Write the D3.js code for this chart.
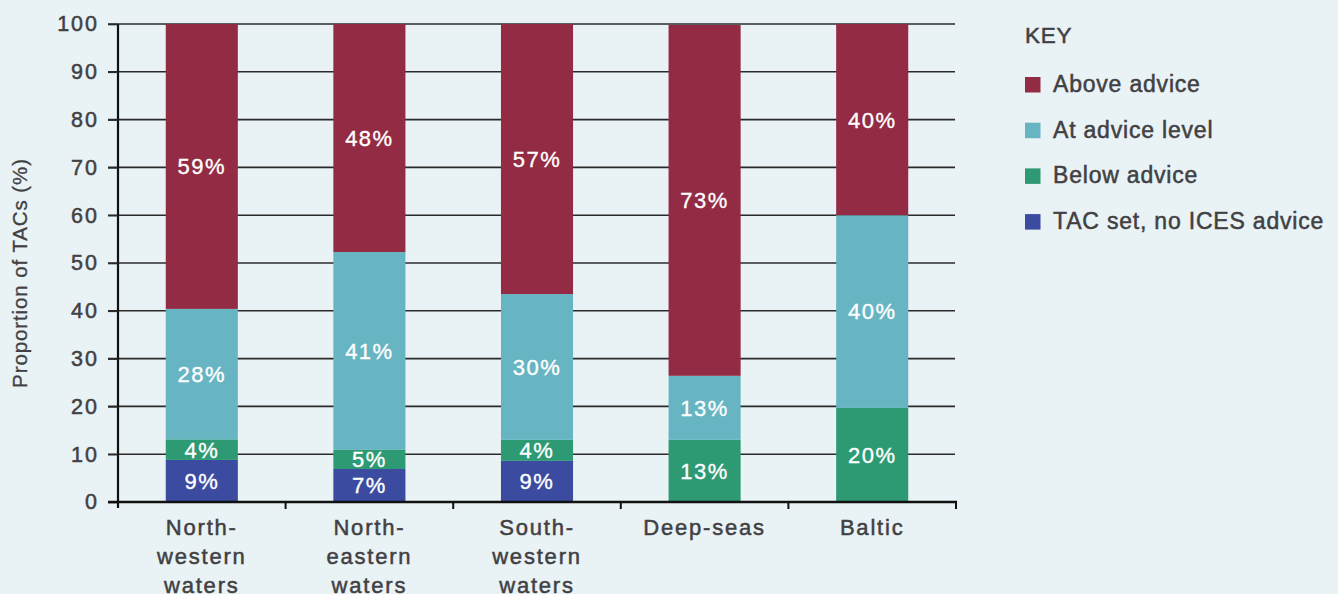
<!DOCTYPE html>
<html>
<head>
<meta charset="utf-8">
<script src="https://cdn.jsdelivr.net/npm/d3@7/dist/d3.min.js"></script>
<style>
  html, body { margin: 0; padding: 0; background: #e9f2f5; }
  svg { display: block; }
  text { font-family: "Liberation Sans", Arial, Helvetica, sans-serif; }
  .dark { stroke: #414042; stroke-width: 0.5px; }
  .light { stroke: #ffffff; stroke-width: 0.35px; }
</style>
</head>
<body>
<svg id="chart" width="1338" height="594"></svg>
<script>
// ---- data ----
const categories = ["North-western waters", "North-eastern waters", "South-western waters", "Deep-seas", "Baltic"];
const categoryLines = [["North-", "western", "waters"], ["North-", "eastern", "waters"], ["South-", "western", "waters"], ["Deep-seas"], ["Baltic"]];
const seriesNames = ["TAC set, no ICES advice", "Below advice", "At advice level", "Above advice"];
const noAdvice = [8.8, 6.9, 8.6, 0, 0];
const belowAdvice = [4.3, 4.0, 4.4, 13.0, 19.7];
const atAdvice = [27.3, 41.4, 30.5, 13.4, 40.3];
const aboveAdvice = [59.6, 47.7, 56.5, 73.4, 40.0];
const noAdviceLabels = ["9%", "7%", "9%", "", ""];
const belowAdviceLabels = ["4%", "5%", "4%", "13%", "20%"];
const atAdviceLabels = ["28%", "41%", "30%", "13%", "40%"];
const aboveAdviceLabels = ["59%", "48%", "57%", "73%", "40%"];
const yTicks = [0, 10, 20, 30, 40, 50, 60, 70, 80, 90, 100];
const legendOrder = ["Above advice", "At advice level", "Below advice", "TAC set, no ICES advice"];

const colors = {
  "Above advice": "#922b43",
  "At advice level": "#67b5c3",
  "Below advice": "#2e9a73",
  "TAC set, no ICES advice": "#3a4ba0"
};
const textColor = "#414042";

const seriesValues = [noAdvice, belowAdvice, atAdvice, aboveAdvice];
const seriesLabels = [noAdviceLabels, belowAdviceLabels, atAdviceLabels, aboveAdviceLabels];

const rows = categories.map((c, i) => {
  const r = { category: c };
  seriesNames.forEach((s, k) => { r[s] = seriesValues[k][i]; });
  return r;
});
const stacked = d3.stack().keys(seriesNames)(rows);

const svg = d3.select("#chart");
const x0 = 118, x1 = 956, yTop = 24, yBot = 502;

const x = d3.scaleBand().domain(categories).range([x0, x1]).padding(0);
const y = d3.scaleLinear().domain([0, 100]).range([yBot, yTop]);
const barW = x.bandwidth() * 0.43;

// gridlines
svg.append("g").selectAll("line").data(yTicks.filter(t => t > 0)).join("line")
  .attr("x1", 108).attr("x2", 955)
  .attr("y1", d => y(d)).attr("y2", d => y(d))
  .attr("stroke", "#2a2a2a").attr("stroke-width", 1.6);

// bars
const g = svg.append("g");
stacked.forEach((layer, k) => {
  const name = seriesNames[k];
  g.append("g").selectAll("rect").data(layer).join("rect")
    .attr("x", d => x(d.data.category) + x.bandwidth() / 2 - barW / 2)
    .attr("width", barW)
    .attr("y", d => y(d[1]))
    .attr("height", d => Math.max(0, y(d[0]) - y(d[1])))
    .attr("fill", colors[name]);
  g.append("g").selectAll("text").data(layer).join("text")
    .attr("class", "light")
    .attr("x", d => x(d.data.category) + x.bandwidth() / 2)
    .attr("y", d => (y(d[0]) + y(d[1])) / 2)
    .attr("dy", "0.36em")
    .attr("text-anchor", "middle")
    .attr("fill", "#ffffff")
    .attr("font-size", 22)
    .attr("letter-spacing", 1.5)
    .text((d, i) => seriesLabels[k][i]);
});

// y axis
const yAxis = svg.append("g").attr("transform", `translate(${x0},0)`)
  .call(d3.axisLeft(y).tickValues(yTicks).tickSize(10).tickPadding(9));
yAxis.select(".domain").attr("stroke", "#111").attr("stroke-width", 2.2)
  .attr("d", `M0,${yTop}V${yBot + 6}`);
yAxis.selectAll(".tick line").attr("stroke", "#2a2a2a").attr("stroke-width", 1.6);
yAxis.selectAll(".tick text").attr("class", "dark").attr("fill", textColor).attr("font-size", 21.5)
  .attr("letter-spacing", 2).attr("font-family", "Liberation Sans, Arial, sans-serif");

// x axis
const xAxisG = svg.append("g");
xAxisG.append("line").attr("x1", 108).attr("x2", x1 + 1).attr("y1", yBot).attr("y2", yBot)
  .attr("stroke", "#111").attr("stroke-width", 2.6);
const bounds = categories.map(c => x(c) + x.bandwidth());
xAxisG.selectAll("line.tk").data(bounds).join("line").attr("class", "tk")
  .attr("x1", d => d).attr("x2", d => d).attr("y1", yBot).attr("y2", yBot + 7)
  .attr("stroke", "#111").attr("stroke-width", 2);

const xl = svg.append("g").selectAll("text").data(categories).join("text")
  .attr("class", "dark")
  .attr("x", d => x(d) + x.bandwidth() / 2)
  .attr("y", 535)
  .attr("text-anchor", "middle")
  .attr("fill", textColor)
  .attr("font-size", 22)
  .attr("letter-spacing", 1.8);
xl.each(function(d, i) {
  const t = d3.select(this);
  categoryLines[i].forEach((line, j) => {
    t.append("tspan").attr("x", x(d) + x.bandwidth() / 2).attr("dy", j === 0 ? 0 : 29).text(line);
  });
});

// y axis title
svg.append("text")
  .attr("class", "dark")
  .style("stroke-width", "0.3px")
  .attr("transform", "translate(27,273) rotate(-90)")
  .attr("text-anchor", "middle")
  .attr("fill", textColor)
  .attr("font-size", 20.5)
  .attr("letter-spacing", 0.9)
  .text("Proportion of TACs (%)");

// legend
const lg = svg.append("g");
lg.append("text").attr("class", "dark").attr("x", 1025).attr("y", 42.5).attr("fill", textColor)
  .attr("font-size", 22.5).attr("letter-spacing", 0.8).text("KEY");
const items = lg.selectAll("g.item").data(legendOrder).join("g").attr("class", "item")
  .attr("transform", (d, i) => `translate(1025, ${77 + i * 45.7})`);
items.append("rect").attr("width", 15.5).attr("height", 15.5).attr("fill", d => colors[d]);
items.append("text").attr("class", "dark").attr("x", 28).attr("y", 15)
  .attr("fill", textColor).attr("font-size", 23).attr("letter-spacing", 0.8).text(d => d);
</script>
</body>
</html>
